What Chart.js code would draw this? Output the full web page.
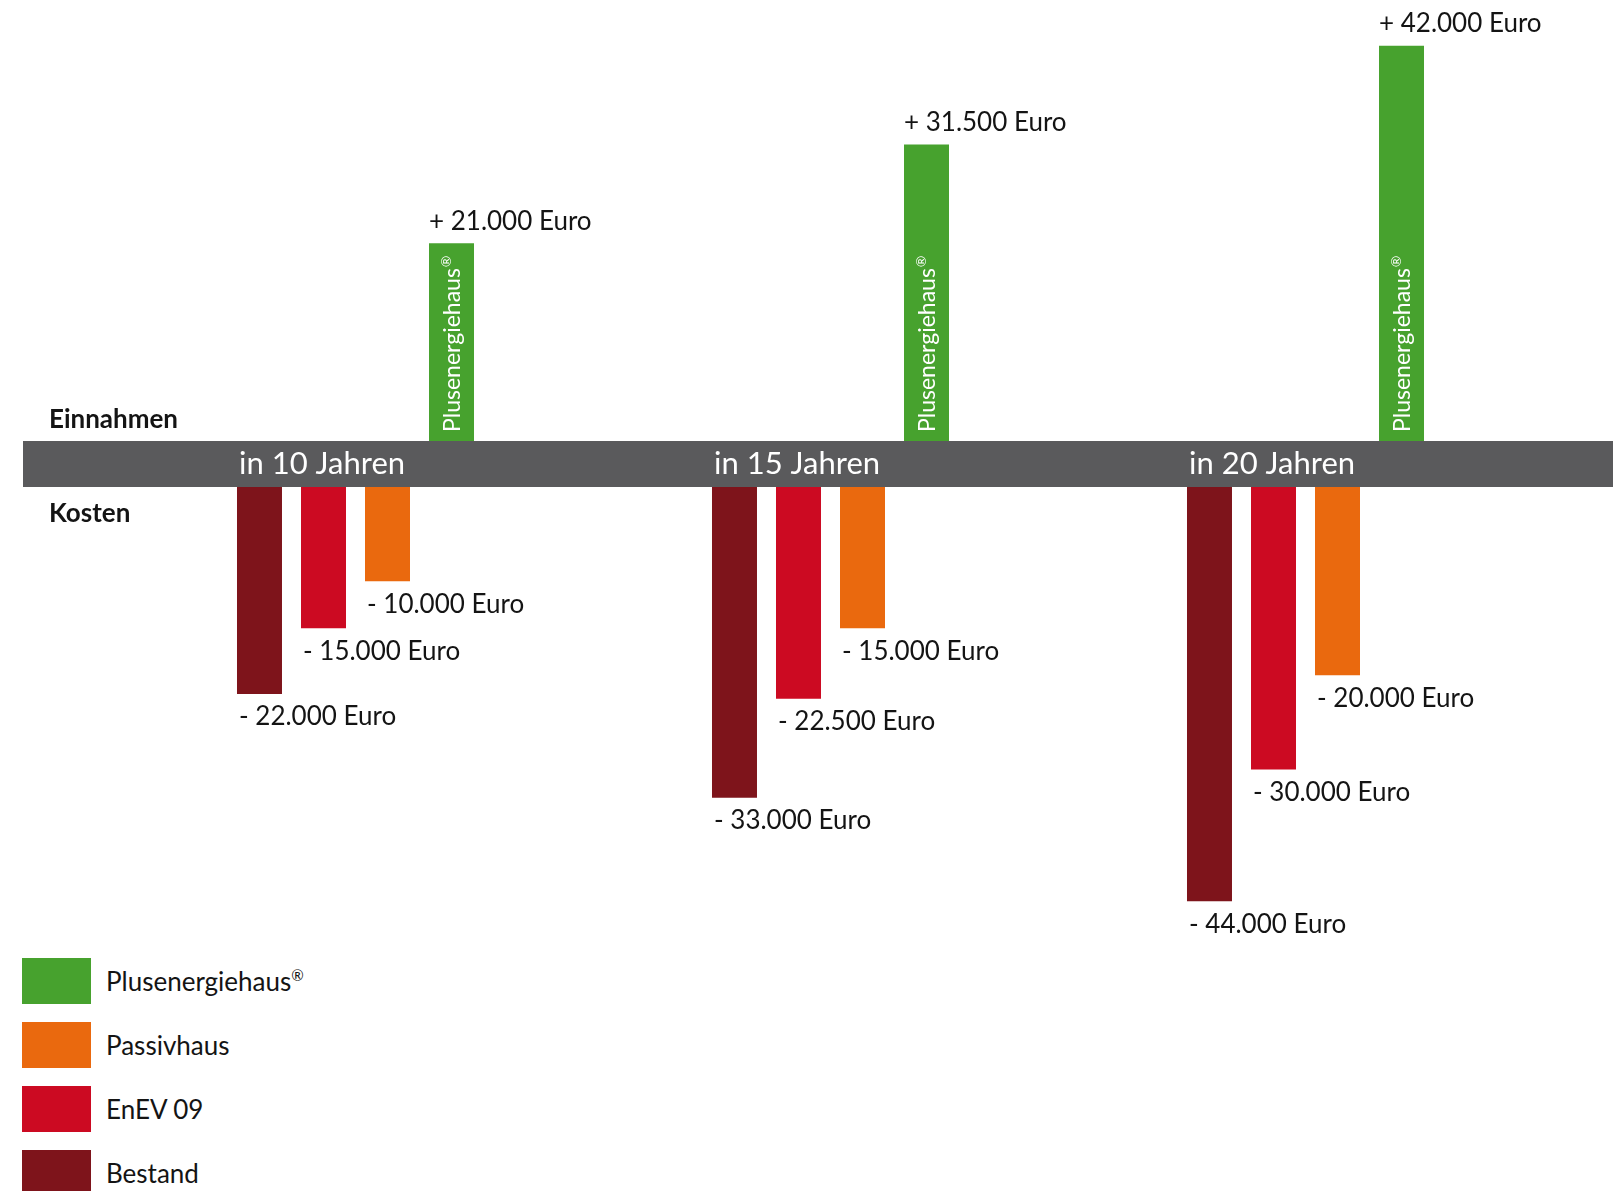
<!DOCTYPE html>
<html lang="de">
<head>
<meta charset="utf-8">
<title>Einnahmen und Kosten</title>
<script src="https://cdn.jsdelivr.net/npm/chart.js@4.4.1/dist/chart.umd.min.js"></script>
<style>
  html, body { margin: 0; padding: 0; background: #fff; }
  body { width: 1613px; height: 1191px; position: relative; overflow: hidden; font-family: Lato, 'Open Sans', sans-serif; color: #141414; }
  #topChart { position: absolute; left: 0; top: 0; }
  #bottomChart { position: absolute; left: 0; top: 487px; }
  .side-label { position: absolute; left: 49px; font-weight: 700; font-size: 26px; line-height: 30px; }
  #legend { position: absolute; left: 22px; top: 958px; }
  .legend-item { display: flex; align-items: center; height: 46px; margin-bottom: 18px; }
  .legend-box { width: 69px; height: 46px; margin-right: 15px; }
  .legend-text { font-size: 26px; }
  .legend-text sup { font-size: 15px; vertical-align: 10px; line-height: 0; }
</style>
</head>
<body>
<canvas id="topChart" width="1613" height="487"></canvas>
<canvas id="bottomChart" width="1613" height="460"></canvas>
<div class="side-label" style="top:403px">Einnahmen</div>
<div class="side-label" style="top:497px">Kosten</div>
<div id="legend"></div>

<script>
// Data
const categories = ["in 10 Jahren", "in 15 Jahren", "in 20 Jahren"];
const bestand = [-22000, -33000, -44000];
const enev = [-15000, -22500, -30000];
const passiv = [-10000, -15000, -20000];
const plus = [21000, 31500, 42000];

const seriesNames = ["Bestand", "EnEV 09", "Passivhaus", "Plusenergiehaus®"];
const seriesColors = ["#7E141B", "#CC0A22", "#EA690E", "#47A22E"];
const seriesData = [bestand, enev, passiv, plus];

const FONT = "Lato, 'Open Sans', sans-serif";
const BAND_COLOR = "#5A5A5C";
const BAND_HEIGHT = 46;

// 46.000 style german number format
function fmt(v) {
  const s = String(Math.abs(v)).replace(/\B(?=(\d{3})+(?!\d))/g, ".");
  return (v < 0 ? "- " : "+ ") + s + " Euro";
}

function buildDatasets() {
  return seriesData.map((d, i) => ({
    label: seriesNames[i],
    data: d,
    backgroundColor: seriesColors[i],
    borderWidth: 0,
    barPercentage: 0.703,
    categoryPercentage: 0.539
  }));
}

function baseOptions(yMin, yMax, padding) {
  return {
    responsive: false,
    maintainAspectRatio: false,
    animation: false,
    layout: { padding: padding },
    plugins: { legend: { display: false }, tooltip: { enabled: false } },
    scales: {
      x: { display: false },
      y: { display: false, min: yMin, max: yMax }
    }
  };
}

// value labels next to bar ends
function drawValueLabels(chart, positive) {
  const ctx = chart.ctx;
  ctx.save();
  ctx.font = "26px " + FONT;
  ctx.fillStyle = "#141414";
  ctx.textAlign = "left";
  ctx.textBaseline = "middle";
  chart.data.datasets.forEach((ds, di) => {
    const meta = chart.getDatasetMeta(di);
    ds.data.forEach((v, i) => {
      if ((v > 0) !== positive) return;
      const bar = meta.data[i];
      const left = bar.x - bar.width / 2;
      if (positive) ctx.fillText(fmt(v), left, bar.y - 22);
      else ctx.fillText(fmt(v), left + 2, bar.y + 23);
    });
  });
  ctx.restore();
}

const topPlugin = {
  id: "band",
  beforeDraw(chart) {
    const ctx = chart.ctx;
    ctx.save();
    ctx.fillStyle = BAND_COLOR;
    ctx.fillRect(23, chart.chartArea.bottom, chart.width - 23, BAND_HEIGHT);
    ctx.restore();
  },
  afterDatasetsDraw(chart) {
    const ctx = chart.ctx;
    drawValueLabels(chart, true);

    // rotated name inside the green bars, the ® set small and raised
    const plusIdx = seriesData.indexOf(plus);
    const meta = chart.getDatasetMeta(plusIdx);
    const parts = seriesNames[plusIdx].split("®");
    ctx.save();
    ctx.fillStyle = "#ffffff";
    ctx.textAlign = "left";
    ctx.textBaseline = "alphabetic";
    meta.data.forEach(bar => {
      ctx.save();
      ctx.translate(bar.x, bar.base - 9);
      ctx.rotate(-Math.PI / 2);
      ctx.font = "23px " + FONT;
      ctx.fillText(parts[0], 0, 8);
      const w = ctx.measureText(parts[0]).width;
      ctx.font = "14px " + FONT;
      ctx.fillText("®", w + 1, -1);
      ctx.restore();
    });
    ctx.restore();

    // category labels in the grey band
    const first = chart.getDatasetMeta(0);
    ctx.save();
    ctx.font = "31px " + FONT;
    ctx.fillStyle = "#ffffff";
    ctx.textAlign = "left";
    ctx.textBaseline = "middle";
    categories.forEach((c, i) => {
      const bar = first.data[i];
      ctx.fillText(c, bar.x - bar.width / 2 + 2, chart.chartArea.bottom + BAND_HEIGHT / 2);
    });
    ctx.restore();
  }
};

const bottomPlugin = {
  id: "costLabels",
  afterDatasetsDraw(chart) {
    drawValueLabels(chart, false);
  }
};

new Chart(document.getElementById("topChart"), {
  type: "bar",
  data: { labels: categories, datasets: buildDatasets() },
  options: baseOptions(0, 46000, { left: 118, right: 70, top: 8, bottom: BAND_HEIGHT }),
  plugins: [topPlugin]
});

new Chart(document.getElementById("bottomChart"), {
  type: "bar",
  data: { labels: categories, datasets: buildDatasets() },
  options: baseOptions(-46000, 0, { left: 118, right: 70, top: 0, bottom: 27 }),
  plugins: [bottomPlugin]
});

// Legend, top entry first
const legend = document.getElementById("legend");
[3, 2, 1, 0].forEach(i => {
  const item = document.createElement("div");
  item.className = "legend-item";
  const name = seriesNames[i].replace("®", "<sup>®</sup>");
  item.innerHTML = '<div class="legend-box" style="background:' + seriesColors[i] + '"></div>' +
    '<div class="legend-text">' + name + '</div>';
  legend.appendChild(item);
});
</script>
</body>
</html>
